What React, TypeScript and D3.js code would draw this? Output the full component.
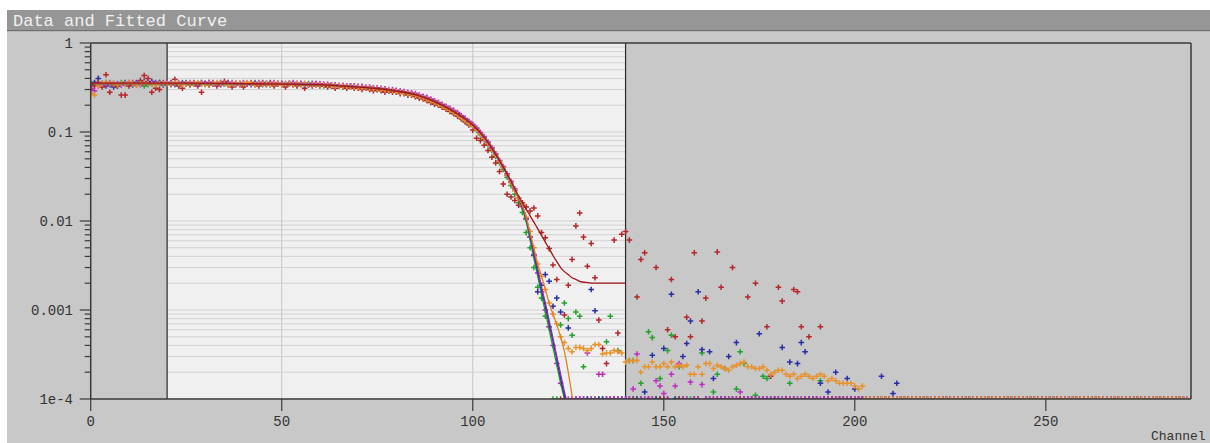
import React from 'react';
import * as d3 from 'd3';

// ---------------- data ----------------
const NCH = 289; // channels 0..288; channels past a series' array hold no counts
const chartTitle = 'Data and Fitted Curve';
const xAxisLabel = 'Channel';
const xTicks = [0, 50, 100, 150, 200, 250];
const yTicks = [1e-4, 1e-3, 1e-2, 1e-1, 1];
const yTickLabels = ['1e-4', '0.001', '0.01', '0.1', '1'];
const fitRange = [20, 140];

const redData = [
  0.30,0.33,0.36,0.32,0.44,0.28,0.34,0.33,0.26,0.26,0.33,0.36,0.34,0.38,0.43,0.40,0.28,0.31,0.30,0.36,
  0.36,0.34,0.39,0.33,0.31,0.35,0.34,0.36,0.33,0.28,0.35,0.34,0.36,0.33,0.35,0.37,0.34,0.32,0.35,0.34,
  0.32,0.35,0.36,0.34,0.33,0.35,0.34,0.36,0.33,0.35,0.34,0.32,0.35,0.34,0.33,0.35,0.31,0.34,0.33,0.35,
  0.33,0.34,0.32,0.33,0.31,0.33,0.32,0.31,0.32,0.31,0.31,0.30,0.31,0.30,0.29,0.30,0.29,0.28,0.29,0.28,
  0.28,0.27,0.27,0.26,0.26,0.25,0.24,0.235,0.225,0.215,0.205,0.20,0.19,0.18,0.17,0.16,0.15,0.14,0.13,0.12,
  0.105,0.085,0.08,0.071,0.062,0.052,0.045,0.036,0.026,0.02,0.0186,0.017,0.015,0.016,0.0144,0.013,0.014,0.0114,0.0074,0.0065,
  0.0049,0.0032,0.0022,0,0.00088,0.0019,0.0037,0.0088,0.0123,0.0066,0.0031,0.0056,0.0023,0.00077,0.00037,0.00025,0,0.0061,0.00055,0.0071,
  0.0076,0.0061,0,0.0014,0.0037,0.0044,0,0,0.003,0,0,0.0006,0.0022,0.0005,0,0,0.00083,0.0005,0.0044,0,
  0.00075,0.00136,0,0,0.0045,0.0018,0,0,0.003,0,0,0,0.0014,0,0.002,0,0,0.00065,0.00018,0,
  0.0018,0.00126,0,0,0.0017,0.0016,0.00065,0,0.0005,0,0,0.00065,
];

const greenData = [
  0.36,0.35,0.35,0.34,0.36,0.35,0.35,0.34,0.36,0.35,0.35,0.34,0.35,0.36,0.33,0.34,0.35,0.35,0.36,0.34,
  0.35,0.35,0.34,0.35,0.36,0.35,0.34,0.35,0.35,0.36,0.35,0.34,0.35,0.35,0.36,0.35,0.34,0.35,0.35,0.35,
  0.34,0.35,0.35,0.36,0.35,0.34,0.35,0.35,0.34,0.35,0.35,0.34,0.35,0.34,0.35,0.34,0.34,0.35,0.34,0.34,
  0.34,0.33,0.34,0.33,0.33,0.33,0.32,0.33,0.32,0.32,0.32,0.31,0.31,0.31,0.31,0.30,0.30,0.30,0.29,0.29,
  0.285,0.28,0.275,0.27,0.265,0.26,0.25,0.245,0.235,0.225,0.215,0.205,0.195,0.185,0.175,0.165,0.155,0.145,0.135,0.125,
  0.115,0.104,0.093,0.083,0.072,0.062,0.053,0.045,0.038,0.031,0.025,0.02,0.016,0.0125,0.0074,0.005,0.003,0.0018,0.00136,0.00085,
  0.00065,0,0,0.00068,0.0012,0.0008,0.00052,0.00095,0.00085,0.00023,0,0,0,0,0,0.00044,0.00085,0,0.00035,0,
  0,0.00027,0.00027,0,0.00015,0,0.00057,0.00049,0,0.00017,0,0.00035,0.00052,0,0.00023,0,0,0,0,0,
  0.00033,0,0,0.00012,0.00019,0,0.00022,0,0,0.00013,0.00034,0.00025,0,0,0.00011,0,0.00018,0.00017,0,0,
  0,0,0,0.00015,0,0,0,0,0,0,0,0.00016,
];

const blueData = [
  0.34,0.36,0.40,0.35,0.33,0.34,0.32,0.33,0.34,0.36,0.35,0.34,0.36,0.35,0.37,0.36,0.37,0.35,0.36,0.34,
  0.35,0.36,0.35,0.34,0.35,0.36,0.35,0.35,0.34,0.35,0.35,0.36,0.35,0.35,0.34,0.35,0.36,0.35,0.34,0.35,
  0.35,0.35,0.34,0.35,0.35,0.36,0.35,0.34,0.35,0.35,0.35,0.34,0.35,0.35,0.34,0.35,0.34,0.34,0.35,0.34,
  0.34,0.34,0.33,0.34,0.33,0.33,0.33,0.32,0.33,0.32,0.32,0.32,0.31,0.31,0.31,0.30,0.30,0.30,0.29,0.29,
  0.29,0.28,0.28,0.27,0.27,0.26,0.25,0.25,0.24,0.23,0.22,0.21,0.20,0.19,0.18,0.17,0.16,0.15,0.14,0.13,
  0.12,0.11,0.098,0.087,0.076,0.065,0.056,0.047,0.040,0.033,0.027,0.022,0.018,0.0145,0.0105,0.0066,0.0041,0.0016,0.0019,0.0025,
  0.0021,0.0011,0.00136,0.00095,0,0.00063,0,0,0,0,0,0.0017,0.00098,0,0,0,0,0,0,0,
  0,0,0,0,0,0.00012,0,0.00031,0,0,0.00037,0,0.0015,0,0,0.0003,0.00042,0.00075,0,0.0016,
  0.00036,0,0.00034,0.00017,0,0,0,0.0003,0,0.00043,0,0,0,0,0,0.00054,0,0,0,0,
  0,0.00038,0,0.00026,0,0.00025,0.00043,0.00034,0,0,0,0.00015,0,0.00012,0,0.0002,0,0,0.00017,0,
  0.00013,0,0,0,0,0,0,0.00018,0,0,0.000115,0.00015,
];

const magentaData = [
  0.31,0.29,0.33,0.35,0.34,0.36,0.35,0.35,0.34,0.35,0.36,0.35,0.35,0.34,0.36,0.35,0.35,0.36,0.35,0.35,
  0.36,0.35,0.35,0.36,0.35,0.35,0.36,0.35,0.35,0.36,0.35,0.36,0.35,0.35,0.36,0.35,0.35,0.36,0.35,0.35,
  0.36,0.35,0.35,0.35,0.36,0.35,0.35,0.35,0.36,0.35,0.35,0.35,0.35,0.36,0.35,0.35,0.35,0.34,0.35,0.35,
  0.35,0.345,0.345,0.34,0.34,0.335,0.335,0.33,0.33,0.33,0.325,0.325,0.32,0.32,0.315,0.315,0.31,0.305,0.30,0.30,
  0.295,0.29,0.285,0.28,0.275,0.27,0.26,0.25,0.245,0.235,0.225,0.215,0.205,0.195,0.185,0.175,0.165,0.153,0.142,0.132,
  0.122,0.11,0.099,0.089,0.077,0.067,0.057,0.048,0.041,0.034,0.028,0.023,0.018,0.0145,0.0105,0.0066,0.0042,0.0026,0.0016,0.001,
  0.00065,0.0004,0.00025,0.00015,0,0,0,0,0,0,0.00033,0,0,0.00019,0.00019,0,0,0,0,0,
  0,0,0.00013,0.00032,0,0,0,0,0.00016,0.00014,0.000115,0,0.00019,0.00014,0.00025,0,0,0.000155,0,0,
  0.000145,0,0,0,0,0,0,0,0,0,0.00012,
];

const orangeData = [
  0.27,0.26,0.33,0.35,0.36,0.35,0.35,0.34,0.35,0.35,0.36,0.35,0.34,0.35,0.36,0.35,0.35,0.34,0.35,0.35,
  0.35,0.35,0.36,0.35,0.34,0.35,0.35,0.35,0.36,0.35,0.34,0.35,0.35,0.36,0.35,0.35,0.34,0.35,0.35,0.35,
  0.35,0.36,0.35,0.34,0.35,0.35,0.35,0.34,0.35,0.35,0.34,0.35,0.35,0.34,0.35,0.34,0.35,0.34,0.34,0.34,
  0.34,0.34,0.335,0.335,0.33,0.33,0.325,0.325,0.32,0.32,0.318,0.315,0.312,0.31,0.307,0.305,0.30,0.297,0.293,0.29,
  0.285,0.28,0.275,0.27,0.265,0.26,0.252,0.243,0.234,0.225,0.216,0.206,0.196,0.186,0.176,0.167,0.156,0.146,0.136,0.126,
  0.117,0.106,0.095,0.085,0.074,0.064,0.055,0.047,0.04,0.033,0.027,0.022,0.018,0.015,0.011,0.0076,0.005,0.0033,0.0024,0.0017,
  0.0012,0.0009,0.0007,0.0005,0.00043,0.00037,0.00034,0.00038,0.00038,0.00037,0.00035,0.00037,0.00041,0.00041,0.00032,0.00033,0.00033,0.00035,0.00034,0.00033,
  0.00026,0.00027,0.00027,0.00027,0.0002,0.00023,0.00023,0.00026,0.00023,0.00023,0.00025,0.00023,0.00026,0.00023,0.00024,0.00023,0.00024,0.00019,0.00019,0.00023,
  0.00019,0.00025,0.00025,0.00022,0.00024,0.00023,0.00022,0.00021,0.00023,0.00024,0.00025,0.00026,0.00023,0.00023,0.00022,0.00022,0.00023,0.00021,0.00019,0.0002,
  0.00021,0.00021,0.00019,0.00018,0.00019,0.00017,0.00018,0.00019,0.00018,0.00017,0.00018,0.00019,0.00018,0.00016,0.00017,0.00016,0.00015,0.00015,0.00015,0.00015,
  0.00014,0.00013,0.00014,
];

// fitted curves, sampled at these channels
const fitChannels = [0,10,20,30,40,50,60,65,70,75,80,85,90,95,100,103,106,108,110,112,113,114,115,116,117,118,119,120,121,122,123,124,125,126,127,128,130,132,135,140];
const fitBlue = [0.35,0.35,0.35,0.35,0.35,0.345,0.34,0.33,0.32,0.308,0.288,0.263,0.219,0.17,0.12,0.087,0.056,0.04,0.027,0.018,
  0.0145,0.0107,0.0068,0.0043,0.0027,0.0017,0.0011,0.0007,0.00045,0.00028,0.00017,0.00011,0.00007,0.000045,0.00003,0.00002,0.00001,0.00001,0.00001,0.00001];
const fitGreen = [0.35,0.35,0.35,0.35,0.35,0.345,0.34,0.33,0.32,0.308,0.288,0.263,0.219,0.17,0.12,0.087,0.056,0.04,0.027,0.018,
  0.0135,0.0097,0.0061,0.0038,0.0024,0.0015,0.00095,0.0006,0.00038,0.00024,0.00015,0.0001,0.00006,0.00004,0.00003,0.00002,0.00001,0.00001,0.00001,0.00001];
const fitMagenta = [0.352,0.352,0.352,0.352,0.35,0.347,0.342,0.332,0.322,0.31,0.29,0.265,0.221,0.172,0.121,0.088,0.057,0.041,0.028,0.0185,
  0.0146,0.0108,0.007,0.0045,0.0029,0.0018,0.0012,0.00076,0.00048,0.0003,0.00019,0.00012,0.00008,0.00005,0.00003,0.00002,0.00001,0.00001,0.00001,0.00001];
const fitOrange = [0.35,0.35,0.35,0.35,0.35,0.345,0.34,0.33,0.32,0.308,0.288,0.263,0.219,0.17,0.12,0.087,0.056,0.04,0.027,0.018,
  0.015,0.011,0.0075,0.005,0.0033,0.0024,0.0017,0.0012,0.0009,0.00068,0.0005,0.00034,0.0002,0.00011,0.00006,0.00003,0.00001,0.00001,0.00001,0.00001];
const fitRed = [0.355,0.355,0.355,0.352,0.35,0.345,0.34,0.33,0.32,0.308,0.288,0.263,0.219,0.17,0.12,0.087,0.056,0.04,0.028,0.019,
  0.016,0.0135,0.0115,0.0097,0.0082,0.0069,0.0058,0.0049,0.0041,0.0035,0.003,0.0027,0.0025,0.0023,0.0022,0.0021,0.00203,0.002,0.002,0.002];

// ---------------- layout ----------------
const W = 1210, H = 443;
const L = 90.7, R = 1191, T = 43, B = 399;
const x = d3.scaleLinear().domain([0, 288]).range([L, R]);
const y = d3.scaleLog().domain([1e-4, 1]).range([B, T]);
const FLOOR = 1e-4;
const yv = (v: number) => (v > 0 ? y(Math.max(v, FLOOR)) : y(FLOOR));

const MONO = "'Liberation Mono', 'DejaVu Sans Mono', monospace";

function pointsPath(arr: number[]) {
  let d = '';
  const h = 2.8;
  for (let i = 0; i < NCH; i++) {
    const v = arr[i] ?? 0;
    const px = x(i), py = yv(v);
    d += `M${(px - h).toFixed(1)},${py.toFixed(1)}h${2 * h}M${px.toFixed(1)},${(py - h).toFixed(1)}v${2 * h}`;
  }
  return d;
}

const fitLine = d3
  .line<number>()
  .x((_, i) => x(fitChannels[i]))
  .y((v) => y(v))
  .curve(d3.curveMonotoneX);

const pointSeries = [
  { data: greenData, color: '#22a22e' },
  { data: blueData, color: '#2a2ea6' },
  { data: redData, color: '#b4262a' },
  { data: magentaData, color: '#c02cc4' },
  { data: orangeData, color: '#e8922e' },
];
const fitSeries = [
  { data: fitGreen, color: '#1f9a2a' },
  { data: fitBlue, color: '#2a2a9a' },
  { data: fitMagenta, color: '#8a2ab0' },
  { data: fitOrange, color: '#e0821e' },
  { data: fitRed, color: '#a0141a' },
];

export default function App() {
  const minor: number[] = [];
  for (let e = -4; e < 0; e++) for (let k = 2; k <= 9; k++) minor.push(k * Math.pow(10, e));
  const grid = [...minor, ...yTicks];
  const fx0 = x(fitRange[0]), fx1 = x(fitRange[1]);
  return (
    <svg width={W} height={H} style={{ position: 'absolute', left: 0, top: 0, background: '#fff' }}>
      <defs>
        <clipPath id="plotClip">
          <rect x={L} y={T} width={R - L} height={B - T} />
        </clipPath>
      </defs>
      {/* panel */}
      <rect x={7} y={10} width={W - 7} height={H - 10} fill="#c8c8c8" />
      <rect x={7} y={10} width={W - 7} height={20} fill="#969696" />
      <rect x={7} y={30} width={W - 7} height={1.2} fill="#6e6e6e" />
      <text x={13} y={26} fontFamily={MONO} fontSize={17} fill="#f0f0f0">{chartTitle}</text>

      {/* fit region */}
      <rect x={fx0} y={T} width={fx1 - fx0} height={B - T} fill="#f0f0f0" />
      {grid.map((g, i) => (
        <line key={'g' + i} x1={fx0} x2={fx1} y1={y(g)} y2={y(g)} stroke="#d2d2d2" strokeWidth={1} />
      ))}
      {xTicks.filter((t) => t > fitRange[0] && t < fitRange[1]).map((t) => (
        <line key={'vg' + t} x1={x(t)} x2={x(t)} y1={T} y2={B} stroke="#c4c4c4" strokeWidth={1} />
      ))}
      <line x1={fx0} x2={fx0} y1={T} y2={B} stroke="#2a2a2a" strokeWidth={1.2} />
      <line x1={fx1} x2={fx1} y1={T} y2={B} stroke="#2a2a2a" strokeWidth={1.2} />

      {/* data */}
      <g clipPath="url(#plotClip)">
        {pointSeries.map((s, i) => (
          <path key={'p' + i} d={pointsPath(s.data)} stroke={s.color} strokeWidth={1.5} fill="none" />
        ))}
        {fitSeries.map((s, i) => (
          <path key={'f' + i} d={fitLine(s.data) || ''} stroke={s.color} strokeWidth={1.3} fill="none" />
        ))}
      </g>

      {/* frame */}
      <line x1={L} x2={R} y1={T} y2={T} stroke="#3a3a3a" strokeWidth={1.5} />
      <line x1={R} x2={R} y1={T} y2={B} stroke="#3a3a3a" strokeWidth={1.5} />
      <line x1={L} x2={R} y1={B} y2={B} stroke="#3a3a3a" strokeWidth={1.5} />
      <line x1={L} x2={L} y1={T} y2={B} stroke="#3a3a3a" strokeWidth={1.5} />

      {/* y axis */}
      {minor.map((m, i) => (
        <line key={'ym' + i} x1={L - 6} x2={L} y1={y(m)} y2={y(m)} stroke="#3a3a3a" strokeWidth={1.2} />
      ))}
      {yTicks.map((t, i) => (
        <g key={'yt' + i}>
          <line x1={L - 11} x2={L} y1={y(t)} y2={y(t)} stroke="#3a3a3a" strokeWidth={1.2} />
          <text x={73} y={y(t)} dy="0.33em" textAnchor="end" fontFamily={MONO} fontSize={14} fill="#333">
            {yTickLabels[i]}
          </text>
        </g>
      ))}

      {/* x axis */}
      {xTicks.map((t) => (
        <g key={'xt' + t}>
          <line x1={x(t)} x2={x(t)} y1={B} y2={B + 12} stroke="#3a3a3a" strokeWidth={1.2} />
          <text x={x(t)} y={426} textAnchor="middle" fontFamily={MONO} fontSize={14} fill="#333">
            {t}
          </text>
        </g>
      ))}
      <text x={1151} y={440} fontFamily={MONO} fontSize={13} fill="#333">{xAxisLabel}</text>
    </svg>
  );
}
